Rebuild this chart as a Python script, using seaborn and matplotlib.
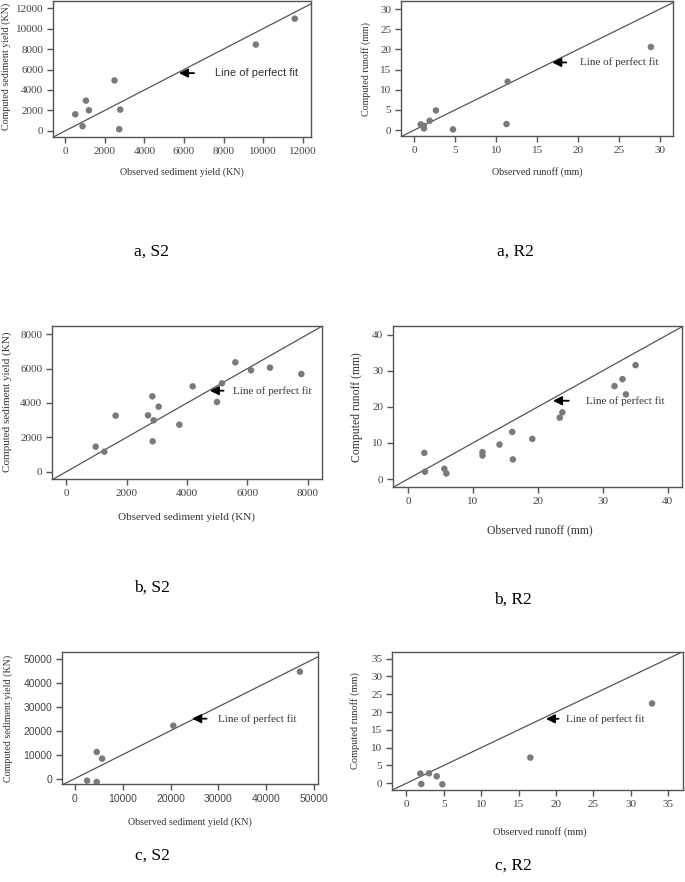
import numpy as np
import pandas as pd
import matplotlib
matplotlib.use('Agg')
import matplotlib.pyplot as plt
import seaborn as sns

# observed / computed values
a_s2_obs = [505, 875, 1044, 1195, 2490, 2778, 2727, 9630, 11600]
a_s2_comp = [1620, 455, 2955, 2013, 4935, 2078, 162, 8440, 10974]
a_r2_obs = [0.77, 1.14, 1.18, 1.87, 2.64, 4.72, 11.4, 11.26, 28.9]
a_r2_comp = [1.4, 1.07, 0.41, 2.3, 4.85, 0.16, 12.0, 1.48, 20.6]
b_s2_obs = [972, 1260, 1635, 2707, 2851, 2895, 2862, 3061, 3746, 4188, 4994, 5160, 5602, 6122, 6751, 7790]
b_s2_comp = [1456, 1165, 3262, 3282, 4388, 2990, 1767, 3786, 2738, 4971, 4058, 5146, 6369, 5903, 6058, 5689]
b_r2_obs = [2.52, 2.62, 5.61, 5.92, 11.48, 11.48, 14.1, 16.06, 16.16, 19.15, 23.37, 23.78, 31.8, 33.04, 33.56, 35.05]
b_r2_comp = [7.26, 2.02, 2.85, 1.56, 6.53, 7.45, 9.56, 13.06, 5.43, 11.13, 17.01, 18.48, 25.75, 27.68, 23.45, 31.54]
c_s2_obs = [2580, 4600, 4600, 5718, 20572, 47000]
c_s2_comp = [-833, 11111, -1389, 8333, 22083, 44583]
c_r2_obs = [1.87, 2.0, 3.03, 4.06, 4.81, 16.58, 32.86]
c_r2_comp = [2.72, -0.19, 2.81, 1.97, -0.28, 7.22, 22.42]

sed_xlabel = 'Observed sediment yield (KN)'
sed_ylabel = 'Computed sediment yield (KN)'
run_xlabel = 'Observed runoff (mm)'
run_ylabel = 'Computed runoff (mm)'

W, H = 685, 882
sns.set_theme(style='white')
plt.rcParams['font.family'] = ['Liberation Serif', 'DejaVu Serif']

fig = plt.figure(figsize=(W / 100, H / 100), dpi=100)
grey = '#555555'
dot = '#7a7a7a'


def px_axes(l, t, r, b):
    return fig.add_axes([l / W, 1 - b / H, (r - l) / W, (b - t) / H])


def fig_text(x, y, s, **kw):
    fig.text(x / W, 1 - y / H, s, **kw)


def panel(box, obs, comp, xlim, ylim, ticks, arrow, labels, caption, lab_size=8,
          sans_ticks=False, sans_note=False):
    ax = px_axes(*box)
    df = pd.DataFrame({'obs': obs, 'comp': comp})
    sns.scatterplot(data=df, x='obs', y='comp', ax=ax, color=dot, s=22, edgecolor='none', zorder=3)
    lo = min(xlim[0], ylim[0])
    hi = max(xlim[1], ylim[1])
    ax.plot([lo, hi], [lo, hi], color=grey, lw=0.9, zorder=2)
    ax.set_xlim(*xlim)
    ax.set_ylim(*ylim)
    ax.set_xticks(ticks[0])
    ax.set_yticks(ticks[1])
    for sp in ax.spines.values():
        sp.set_color(grey)
        sp.set_linewidth(1.0)
    ax.tick_params(axis='both', direction='out', length=4, width=1, color=grey,
                   labelsize=8, labelcolor='#444444', bottom=True, left=True, pad=3)
    if sans_ticks:
        for t in ax.get_xticklabels() + ax.get_yticklabels():
            t.set_family(['Liberation Sans', 'DejaVu Sans'])
            t.set_fontsize(7.5)
    ax.set_xlabel('')
    ax.set_ylabel('')
    # arrow and note
    hx, tx, ay, txt_x = arrow
    ax.annotate('', xy=(hx, ay), xytext=(tx, ay),
                arrowprops=dict(arrowstyle='-|>', color='black', lw=1.3, mutation_scale=13))
    note_font = ['Liberation Sans', 'DejaVu Sans'] if sans_note else ['Liberation Serif', 'DejaVu Serif']
    ax.text(txt_x, ay, 'Line of perfect fit', va='center', ha='left', fontsize=8,
            family=note_font, color='#333333')
    (xl, xl_pos), (yl, yl_pos) = labels
    fig_text(xl_pos[0], xl_pos[1], xl, ha='center', va='center', fontsize=lab_size, color='#333333')
    fig_text(yl_pos[0], yl_pos[1], yl, ha='center', va='center', fontsize=lab_size, color='#333333',
             rotation=90)
    fig_text(caption[1][0], caption[1][1], caption[0], ha='center', va='center', fontsize=12.5,
             color='black')
    return ax


panel((53, 1, 311, 137), a_s2_obs, a_s2_comp, (-620, 12420), (-600, 12700),
      ([0, 2000, 4000, 6000, 8000, 10000, 12000], [0, 2000, 4000, 6000, 8000, 10000, 12000]),
      (5606, 6650, 5650, 7590),
      ((sed_xlabel, (182, 172)), (sed_ylabel, (6, 66))), ('a, S2', (152, 252)),
      lab_size=7.2, sans_note=True)

panel((401, 1, 673, 136), a_r2_obs, a_r2_comp, (-1.63, 31.6), (-1.48, 32.0),
      ([0, 5, 10, 15, 20, 25, 30], [0, 5, 10, 15, 20, 25, 30]),
      (16.5, 18.9, 16.76, 20.2),
      ((run_xlabel, (537, 172)), (run_ylabel, (366, 69))), ('a, R2', (515, 252)),
      lab_size=7.2)

panel((52, 326, 322, 479), b_s2_obs, b_s2_comp, (-475, 8475), (-427, 8485),
      ([0, 2000, 4000, 6000, 8000], [0, 2000, 4000, 6000, 8000]),
      (4663, 5304, 4718, 5525),
      ((sed_xlabel, (187, 517)), (sed_ylabel, (7, 402))), ('b, S2', (152, 588)),
      lab_size=8)

panel((393, 326, 682, 487), b_r2_obs, b_r2_comp, (-2.3, 42.2), (-2.2, 42.4),
      ([0, 10, 20, 30, 40], [0, 10, 20, 30, 40]),
      (21.9, 25.2, 21.7, 27.4),
      ((run_xlabel, (540, 530)), (run_ylabel, (357, 407))), ('b, R2', (513, 600)),
      lab_size=8.5)

panel((62, 652, 318, 784), c_s2_obs, c_s2_comp, (-2650, 50770), (-2222, 52778),
      ([0, 10000, 20000, 30000, 40000, 50000], [0, 10000, 20000, 30000, 40000, 50000]),
      (23920, 28100, 25000, 29990),
      ((sed_xlabel, (190, 822)), (sed_ylabel, (8, 718))), ('c, S2', (152, 856)),
      lab_size=7.2, sans_ticks=True)

panel((392, 652, 683, 790), c_r2_obs, c_r2_comp, (-1.92, 37.0), (-1.88, 36.87),
      ([0, 5, 10, 15, 20, 25, 30, 35], [0, 5, 10, 15, 20, 25, 30, 35]),
      (18.28, 20.73, 18.1, 21.3),
      ((run_xlabel, (540, 832)), (run_ylabel, (355, 721))), ('c, R2', (513, 866)),
      lab_size=7.5)

fig.savefig('out.png', dpi=100, facecolor='white')
